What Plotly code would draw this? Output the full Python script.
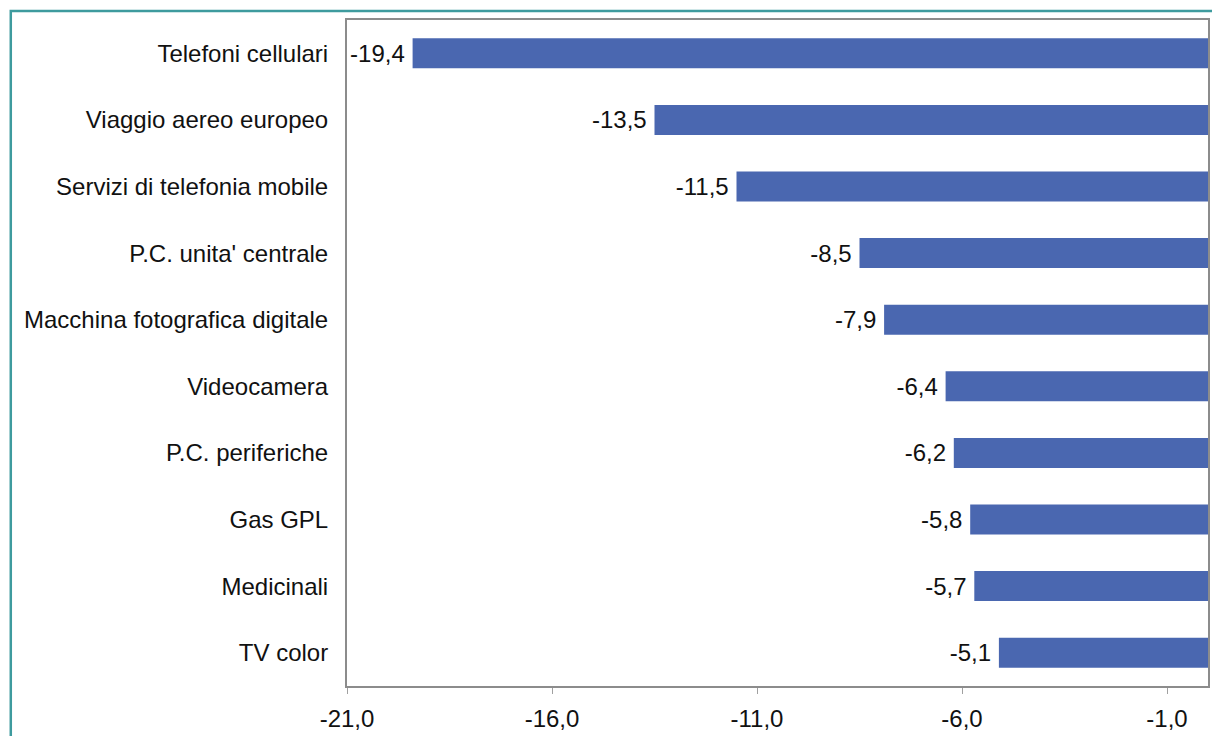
import plotly.graph_objects as go

categories = ["Telefoni cellulari", "Viaggio aereo europeo", "Servizi di telefonia mobile",
              "P.C. unita' centrale", "Macchina fotografica digitale", "Videocamera",
              "P.C. periferiche", "Gas GPL", "Medicinali", "TV color"]
values = [-19.4, -13.5, -11.5, -8.5, -7.9, -6.4, -6.2, -5.8, -5.7, -5.1]
tick_vals = [-21, -16, -11, -6, -1]
tick_labels = ["-21,0", "-16,0", "-11,0", "-6,0", "-1,0"]

W, H = 1212, 736
L, R, T, B = 347, 2, 20, 50
pw = W - L - R
ph = H - T - B
FONT = "Liberation Sans, Arial"

fig = go.Figure(go.Bar(
    x=values, y=categories, orientation="h",
    marker=dict(color="#4A67B0", line=dict(width=0)),
    texttemplate="%{x:.1f}\u2009", textposition="outside",
    textfont=dict(size=24, color="#111111", family=FONT),
    cliponaxis=False,
))

fig.update_layout(
    width=W, height=H,
    margin=dict(l=L, r=R, t=T, b=B),
    paper_bgcolor="white", plot_bgcolor="white",
    separators=",.",
    bargap=0.55,
    showlegend=False,
    font=dict(family=FONT, size=24, color="#111111"),
    xaxis=dict(range=[-21, 0], tickvals=tick_vals, ticktext=tick_labels,
               showgrid=False, zeroline=False,
               showline=True, linecolor="#8c8c8c", linewidth=2, mirror=True,
               ticks="outside", ticklen=6, tickcolor="#a0a0a0", tickwidth=1,
               ticklabelstandoff=4, tickfont=dict(size=24), fixedrange=True),
    yaxis=dict(autorange="reversed", showgrid=False, zeroline=False,
               showline=True, linecolor="#8c8c8c", linewidth=2, mirror=True,
               ticks="", ticklabelstandoff=12, tickfont=dict(size=24), fixedrange=True),
    shapes=[dict(type="rect", xref="paper", yref="paper",
                 x0=(10 - L) / pw, x1=(W + 20 - L) / pw,
                 y0=-(H + 20 - T - ph) / ph, y1=1 + (T - 11) / ph,
                 line=dict(color="#3E9B9E", width=2.5), layer="below")],
)

fig.write_html("out.html",
               config={"displayModeBar": False},
               post_script="document.body.style.margin='0';document.body.style.overflow='hidden';")
